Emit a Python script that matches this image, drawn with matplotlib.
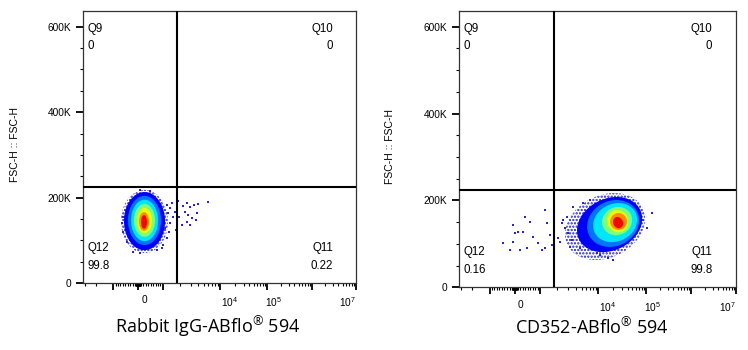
import numpy as np
import matplotlib
matplotlib.use("Agg")
import matplotlib.pyplot as plt
from matplotlib.transforms import ScaledTranslation

plt.rcParams['font.family'] = ['Liberation Sans', 'DejaVu Sans']
plt.rcParams['mathtext.fontset'] = 'custom'
plt.rcParams['mathtext.rm'] = 'Liberation Sans'
plt.rcParams['mathtext.default'] = 'regular'
plt.rcParams['hatch.linewidth'] = 1.1

# ---------------- values ----------------
xlabels = [r"Rabbit IgG-ABflo$^{\circledR}$ 594", r"CD352-ABflo$^{\circledR}$ 594"]
ylabel = "FSC-H :: FSC-H"
quad_names = ["Q9", "Q10", "Q11", "Q12"]
quad_pct_left = ["0", "0", "0.22", "99.8"]
quad_pct_right = ["0", "0", "99.8", "0.16"]
gate_x = [1790, 1770]
gate_y = [225000, 224000]

# density bands of the main population (outer -> core), bounding boxes in data units
left_band_xlo = [-669, -546, -387, -270, -154, -40, 37, 113]
left_band_xhi = [1268, 1115, 926, 793, 665, 543, 423, 344]
left_band_ylo = [70e3, 77e3, 89e3, 98e3, 108e3, 117e3, 122e3, 127e3]
left_band_yhi = [218e3, 213e3, 204e3, 195e3, 185e3, 176e3, 166e3, 159e3]

right_band_xlo = [2653, 4153, 6196, 7986, 11870, 14870, 17110, 19600]
right_band_xhi = [94400, 81480, 69960, 63390, 49360, 40520, 38490, 31770]
right_band_ylo = [63e3, 81e3, 93e3, 104e3, 120e3, 127e3, 132e3, 136e3]
right_band_yhi = [217e3, 208e3, 201e3, 194e3, 185e3, 178e3, 171e3, 162e3]

# sparse events outside the dense cloud
left_dots_x = [1203, 1378, 1474, 1284, 1562, 1378, 1115, 1338, 1672, 1890, 2224, 2576, 2916, 3393,
               4007, 5972, 2427, 2741, 3110, 3657, 2576, 2145, 2916, 3763, 1965, 1737, 1203, 1035,
               -640, -575, -598, -439, -182, 75, 738, 959, 75, 463]
left_dots_y = [183e3, 175e3, 187e3, 163e3, 155e3, 140e3, 128e3, 120e3, 167e3, 191e3, 181e3, 187e3,
               178e3, 182e3, 185e3, 190e3, 167e3, 159e3, 152e3, 148e3, 144e3, 136e3, 136e3, 163e3,
               155e3, 124e3, 105e3, 89e3, 140e3, 120e3, 155e3, 97e3, 73e3, 71e3, 77e3, 81e3, 218e3, 216e3]

right_dots_x = [-440, -58, 6, 130, 319, 582, 717, 1257, 1345, 1530, 1632, 934, 451, 194, -182, 1090,
                -58, 1257, 2079, 2358, 2492, 2825, 2653, 2989, 3399, 2211, 3192, 4680, 3604, 5337,
                7018, 132800, 86810, 103200, 15760, 19850, 10800, 9371, 385]
right_dots_y = [103e3, 143e3, 124e3, 128e3, 128e3, 151e3, 116e3, 178e3, 147e3, 120e3, 97e3, 101e3,
                90e3, 86e3, 86e3, 86e3, 105e3, 90e3, 113e3, 147e3, 155e3, 162e3, 136e3, 124e3, 109e3,
                105e3, 93e3, 90e3, 185e3, 193e3, 201e3, 170e3, 155e3, 136e3, 67e3, 63e3, 74e3, 78e3, 162e3]

# ---------------- biexponential (logicle) x scale ----------------
T, M, W, p = 1e7, 6.2, 1.25, 5.5
yy = np.linspace(0, M, 6001)
dd = np.abs(yy - W)
xx = np.sign(yy - W) * T * 10 ** -(M - W) * (10 ** dd - p ** 2 * 10 ** (-dd / p) + p ** 2 - 1)


def fwd(x):
    return np.interp(x, xx, yy)


def inv(y):
    return np.interp(y, yy, xx)


major_x = [-1000, 0, 1000, 1e4, 1e5, 1e6, 1e7]
major_lab = ["", "0", "", "$10^4$", "$10^5$", "", "$10^7$"]
lab_shift = [0, 6, 0, 9, 6, 0, -9]   # pixel nudges of the tick labels, as in the original
minor_x = [-3000, -2000]
for e in range(1, 7):
    for k in range(1, 10):
        v = k * 10 ** e
        if v in major_x:
            continue
        minor_x.append(v)
        if e < 3:
            minor_x.append(-v)

# outer band is drawn as speckle, the rest as jet-coloured density levels
band_cols = [None] + [plt.cm.jet(v) for v in [0.12, 0.24, 0.35, 0.5, 0.63, 0.76, 0.9]]

fig = plt.figure(figsize=(7.48, 3.5), dpi=100)
axl = fig.add_axes([0.11096, 0.19143, 0.36497, 0.77714])
axr = fig.add_axes([0.61364, 0.17914, 0.37032, 0.79029])

panels = [
    (axl, left_band_xlo, left_band_xhi, left_band_ylo, left_band_yhi, 0, left_dots_x, left_dots_y,
     quad_pct_left, 0),
    (axr, right_band_xlo, right_band_xhi, right_band_ylo, right_band_yhi, 26, right_dots_x, right_dots_y,
     quad_pct_right, 1),
]

t = np.linspace(0, 2 * np.pi, 240)
for ax, bxlo, bxhi, bylo, byhi, tilt, dx, dy, pct, i in panels:
    ax.set_xscale('function', functions=(fwd, inv))
    ax.set_xlim(xx[0], xx[-1])
    ax.set_ylim(0, 637000)

    # dense cloud as nested density bands
    th = np.radians(tilt)
    c2, s2 = np.cos(th) ** 2, np.sin(th) ** 2
    for j in range(len(bxlo)):
        (px0, py0), (px1, py1) = ax.transData.transform([(bxlo[j], bylo[j]), (bxhi[j], byhi[j])])
        cx, cy = (px0 + px1) / 2, (py0 + py1) / 2
        Wb, Hb = (px1 - px0) / 2, (py1 - py0) / 2
        if tilt:
            a = np.sqrt(max((Wb ** 2 * c2 - Hb ** 2 * s2) / (c2 - s2), 1))
            b = np.sqrt(max((Hb ** 2 * c2 - Wb ** 2 * s2) / (c2 - s2), 1))
        else:
            a, b = Wb, Hb
        ex, ey = a * np.cos(t), b * np.sin(t)
        X = cx + ex * np.cos(th) - ey * np.sin(th)
        Y = cy + ex * np.sin(th) + ey * np.cos(th)
        pts = ax.transData.inverted().transform(np.column_stack([X, Y]))
        if band_cols[j] is None:
            ax.fill(pts[:, 0], pts[:, 1], facecolor='white', edgecolor='#1e1eb8', hatch='.....',
                    lw=0, zorder=2)
        else:
            ax.fill(pts[:, 0], pts[:, 1], color=band_cols[j], lw=0, zorder=2)

    ax.scatter(dx, dy, s=1.6, marker='s', color='#2828c8', linewidths=0, zorder=3)

    ax.axvline(gate_x[i], color='black', lw=1.5, zorder=4)
    ax.axhline(gate_y[i], color='black', lw=1.5, zorder=4)

    # quadrant names and percentages
    fs = 8.3
    ax.text(0.017, 0.933, quad_names[0], transform=ax.transAxes, fontsize=fs, va='center', ha='left')
    ax.text(0.017, 0.872, pct[0], transform=ax.transAxes, fontsize=fs, va='center', ha='left')
    ax.text(0.915, 0.933, quad_names[1], transform=ax.transAxes, fontsize=fs, va='center', ha='right')
    ax.text(0.915, 0.872, pct[1], transform=ax.transAxes, fontsize=fs, va='center', ha='right')
    ax.text(0.915, 0.127, quad_names[2], transform=ax.transAxes, fontsize=fs, va='center', ha='right')
    ax.text(0.915, 0.064, pct[2], transform=ax.transAxes, fontsize=fs, va='center', ha='right')
    ax.text(0.017, 0.127, quad_names[3], transform=ax.transAxes, fontsize=fs, va='center', ha='left')
    ax.text(0.017, 0.064, pct[3], transform=ax.transAxes, fontsize=fs, va='center', ha='left')

    # axes styling
    ax.set_xticks(major_x)
    ax.set_xticklabels(major_lab)
    ax.set_xticks(minor_x, minor=True)
    ax.set_yticks([0, 200000, 400000, 600000])
    ax.set_yticklabels(["0", "200K", "400K", "600K"])
    ax.set_yticks(np.arange(50000, 637000, 50000), minor=True)
    ax.tick_params(axis='both', which='major', direction='out', length=5, width=1.3,
                   labelsize=7.3, color='black')
    ax.tick_params(axis='both', which='minor', direction='out', length=2.5, width=0.8, color='black')
    ax.tick_params(axis='x', which='major', pad=4)
    ax.tick_params(axis='y', which='major', pad=3.5)
    for lab, sh in zip(ax.get_xticklabels(), lab_shift):
        lab.set_transform(lab.get_transform() + ScaledTranslation(sh / 100, 0, fig.dpi_scale_trans))
    for sp in ax.spines.values():
        sp.set_linewidth(0.9)
        sp.set_color('#333333')

    ax.text(-0.249, 0.51, ylabel, transform=ax.transAxes, rotation=90, fontsize=7.5,
            va='center', ha='center')
    ax.text([0.458, 0.48][i], [-0.165, -0.147][i], xlabels[i], transform=ax.transAxes,
            fontsize=13, family=['Open Sans', 'DejaVu Sans'], va='center', ha='center')

fig.savefig("out.png", dpi=100)
